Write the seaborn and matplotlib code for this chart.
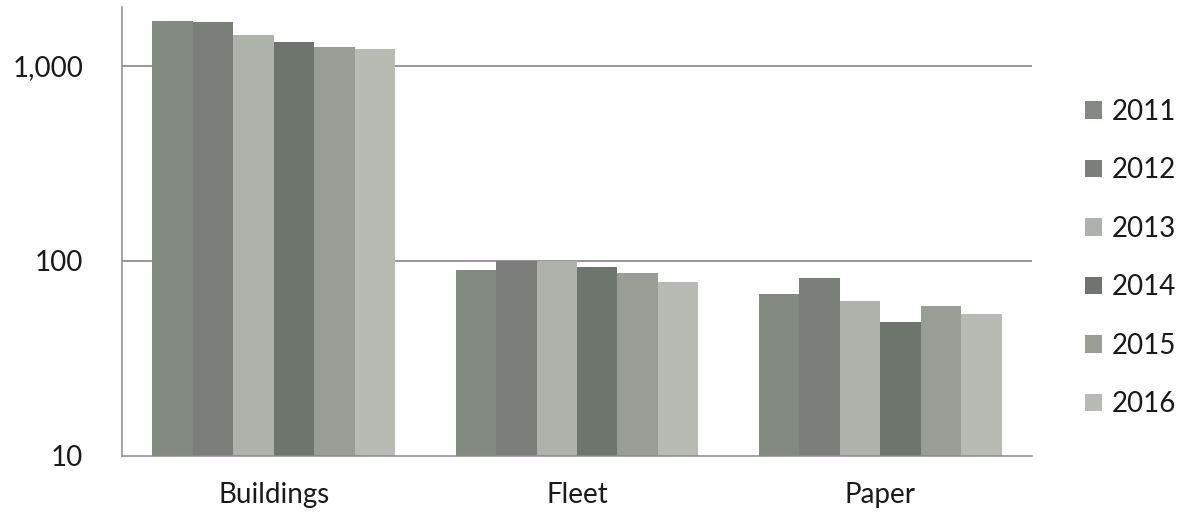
import matplotlib
matplotlib.use("Agg")
import matplotlib.pyplot as plt
import matplotlib.ticker as mticker
import pandas as pd
import seaborn as sns

# values (log scale)
categories = ["Buildings", "Fleet", "Paper"]
years = ["2011", "2012", "2013", "2014", "2015", "2016"]
buildings = [1700, 1670, 1440, 1330, 1250, 1220]
fleet = [90, 100, 100, 93.5, 87, 77.5]
paper = [67.5, 82, 62.5, 48.5, 58.5, 53.5]

year_colors = ["#838a81", "#7a8079", "#adb2aa", "#6e756d", "#989d95", "#b7bbb3"]

rows = []
for cat, vals in zip(categories, [buildings, fleet, paper]):
    for yr, v in zip(years, vals):
        rows.append({"category": cat, "year": yr, "value": v})
df = pd.DataFrame(rows)

sns.set_style("white")
plt.rcParams["font.family"] = ["Lato", "DejaVu Sans"]
plt.rcParams["font.size"] = 20

fig = plt.figure(figsize=(11.82, 5.16), dpi=100)
ax = fig.add_axes([122 / 1182, 1 - 456 / 516, 910 / 1182, 449 / 516])
ax.set_yscale("log")

sns.barplot(data=df, x="category", y="value", hue="year",
            palette=year_colors, width=0.8, saturation=1,
            linewidth=0, ax=ax, zorder=2)

ax.set_ylim(10, 2000)
ax.set_xlim(-0.5, 2.5)
ax.yaxis.set_major_locator(mticker.FixedLocator([10, 100, 1000]))
ax.yaxis.set_minor_locator(mticker.NullLocator())
ax.yaxis.set_major_formatter(mticker.FuncFormatter(lambda v, p: f"{v:,.0f}"))
ax.tick_params(axis="y", length=0, pad=28, labelsize=20, colors="#1a1a1a")
ax.tick_params(axis="x", length=0, pad=19, labelsize=20, colors="#1a1a1a")
ax.set_xlabel("")
ax.set_ylabel("")

ax.grid(False)
for yv in [100, 1000]:
    ax.axhline(yv, color="#7a7a7a", linewidth=1.1, zorder=1)

for side in ["top", "right"]:
    ax.spines[side].set_visible(False)
for side in ["left", "bottom"]:
    ax.spines[side].set_color("#8a8a8a")
    ax.spines[side].set_linewidth(1.1)

handles, labels = ax.get_legend_handles_labels()
ax.get_legend().remove()
fig.legend(handles, labels, loc="center left",
           bbox_to_anchor=(1085 / 1182, 1 - 258 / 516),
           frameon=False, fontsize=20, borderpad=0, borderaxespad=0,
           handlelength=0.61, handleheight=0.61, handletextpad=0.36,
           labelspacing=1.17, labelcolor="#1a1a1a")

fig.savefig("out.png", dpi=100)
plt.close(fig)
